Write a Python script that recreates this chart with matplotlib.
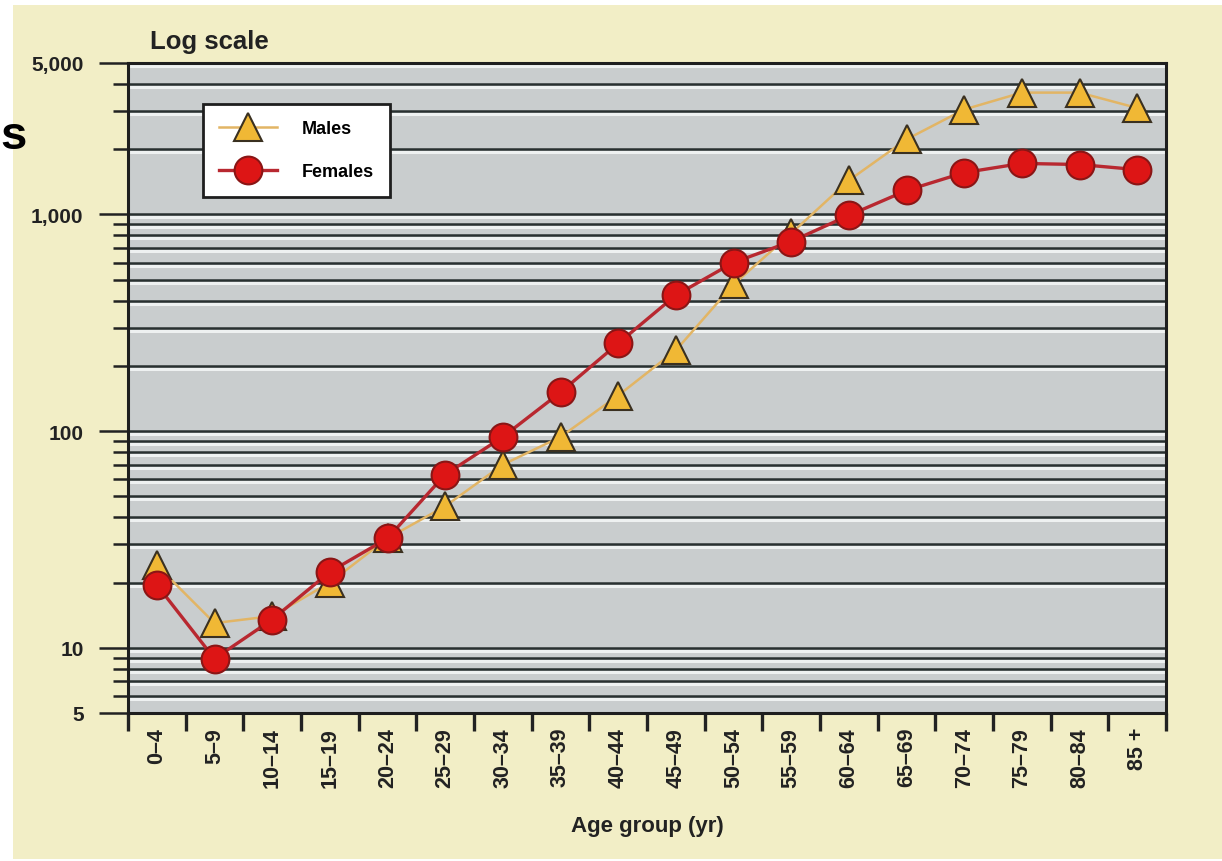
import numpy as np
import matplotlib
matplotlib.use('Agg')
import matplotlib.pyplot as plt
from matplotlib.patches import Rectangle
from matplotlib.ticker import FixedLocator, FuncFormatter, NullFormatter
import matplotlib.transforms as mtransforms

# Rates by age group, log scale
grupos = ['0–4', '5–9', '10–14', '15–19', '20–24', '25–29', '30–34', '35–39',
          '40–44', '45–49', '50–54', '55–59', '60–64', '65–69', '70–74',
          '75–79', '80–84', '85 +']
homens = [24, 13, 14, 20, 32, 45, 70, 94, 146, 236, 475, 817, 1435, 2220,
          3050, 3650, 3650, 3100]
mulheres = [19.5, 8.9, 13.5, 22.4, 32, 63, 94, 151, 254, 424, 600, 750, 990,
            1290, 1560, 1720, 1700, 1610]

ticks_maiores = [5, 10, 100, 1000, 5000]
ticks_menores = [6, 7, 8, 9, 20, 30, 40, 50, 60, 70, 80, 90, 200, 300, 400,
                 500, 600, 700, 800, 900, 2000, 3000, 4000]

plt.rcParams['font.family'] = ['Liberation Sans', 'DejaVu Sans']

fig = plt.figure(figsize=(12.22, 8.62), dpi=100)
fig.patch.set_facecolor('white')
# fundo bege
fig.add_artist(Rectangle((13 / 1222, 2 / 862), 1, 1 - 8 / 862,
                         transform=fig.transFigure, facecolor='#f2eec6',
                         edgecolor='none', zorder=0))

ax = fig.add_axes([128 / 1222, 1 - 714 / 862, 1038 / 1222, 650 / 862])
ax.set_facecolor('#c9cdce')
ax.set_yscale('log')
ax.set_ylim(5, 5000)
x = np.arange(len(grupos))
ax.set_xlim(-0.5, len(grupos) - 0.5)

# linhas horizontais com leve brilho embaixo
faixa = mtransforms.blended_transform_factory(ax.transAxes, ax.transData)
brilho = faixa + mtransforms.ScaledTranslation(0, -3 / 100, fig.dpi_scale_trans)
for v in ticks_maiores + ticks_menores:
    ax.plot([0, 1], [v, v], color='#eef1f1', lw=2.2, zorder=1, transform=brilho,
            solid_capstyle='butt')
    ax.axhline(v, color='#283030', lw=1.8, zorder=2)

ax.plot(x, homens, color='#e2b565', lw=1.8, marker='^', ms=20,
        markerfacecolor='#f0b835', markeredgecolor='#3a3020', markeredgewidth=1.5,
        label='Males', zorder=4)
ax.plot(x, mulheres, color='#b82830', lw=2.4, marker='o', ms=20,
        markerfacecolor='#dd1515', markeredgecolor='#8a1515', markeredgewidth=1.5,
        label='Females', zorder=5)

# eixo y
ax.yaxis.set_major_locator(FixedLocator(ticks_maiores))
ax.yaxis.set_minor_locator(FixedLocator(ticks_menores))
ax.yaxis.set_major_formatter(FuncFormatter(lambda v, p: f'{int(v):,}'))
ax.yaxis.set_minor_formatter(NullFormatter())
ax.tick_params(axis='y', which='major', length=21, width=1.8, pad=11,
               labelsize=15, colors='#222222')
ax.tick_params(axis='y', which='minor', length=11, width=1.8, color='#222222')
for t in ax.get_yticklabels():
    t.set_fontweight('bold')

# eixo x: marcas nos limites das faixas, rótulos no centro
ax.xaxis.set_major_locator(FixedLocator(np.arange(-0.5, len(grupos), 1.0)))
ax.xaxis.set_major_formatter(NullFormatter())
ax.set_xticks(x, grupos, minor=True)
ax.tick_params(axis='x', which='major', length=13, width=2.4, color='#222222')
ax.tick_params(axis='x', which='minor', length=0, pad=10, labelsize=15.5,
               labelrotation=90, labelcolor='#222222')
for t in ax.get_xticklabels(minor=True):
    t.set_fontweight('bold')

for s in ax.spines.values():
    s.set_linewidth(2.2)
    s.set_color('#1e1e1e')
    s.set_zorder(6)

ax.set_xlabel('Age group (yr)', fontsize=16, fontweight='bold', color='#222222',
              labelpad=20)
fig.text(150 / 1222, 1 - 42 / 862, 'Log scale', fontsize=18.5, fontweight='bold',
         color='#222222', va='center', ha='left')
fig.text(0, 1 - 137 / 862, 's', fontsize=34, fontweight='bold',
         color='black', va='center', ha='left')

leg = ax.legend(loc='upper left', bbox_to_anchor=(0.072, 0.937), frameon=True,
                fancybox=False, framealpha=1, edgecolor='#1e1e1e',
                facecolor='white', prop={'size': 13, 'weight': 'bold'},
                handlelength=3.2, handletextpad=1.4, labelspacing=1.45,
                borderpad=0.9, borderaxespad=0, markerscale=1.0)
leg.get_frame().set_linewidth(2)
leg.set_zorder(7)

fig.savefig('out.png', dpi=100)
